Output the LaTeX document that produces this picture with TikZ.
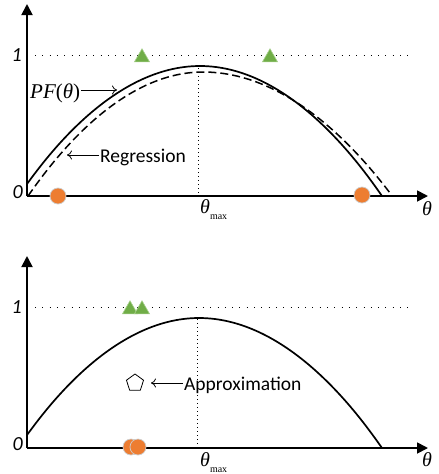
\documentclass[tikz,border=0pt]{standalone}
\usepackage{fontspec}
\setmainfont{Liberation Serif}
\newfontfamily\calfont{Carlito}
\usetikzlibrary{arrows.meta,shapes.geometric}
\definecolor{trigreen}{RGB}{112,173,71}
\definecolor{triedge}{RGB}{169,209,142}
\definecolor{dotorange}{RGB}{237,125,49}
\definecolor{dotedge}{RGB}{205,205,205}
\begin{document}
\begin{tikzpicture}[x=1pt,y=-1pt,
  axisline/.style={line width=1.8pt,-{Triangle[length=11pt,width=11pt]}},
  curve/.style={line width=1.7pt},
  dashcurve/.style={line width=1.5pt,dash pattern=on 8pt off 4pt},
  hdots/.style={line width=1pt,dash pattern=on 1pt off 6.3pt},
  vdots/.style={line width=1pt,dash pattern=on 1pt off 3pt},
  tri/.style={regular polygon,regular polygon sides=3,minimum size=17.5pt,inner sep=0pt,fill=trigreen,draw=triedge,line width=0.6pt},
  ball/.style={circle,minimum size=16pt,inner sep=0pt,fill=dotorange,draw=dotedge,line width=0.7pt},
  pent/.style={regular polygon,regular polygon sides=5,minimum size=18pt,inner sep=0pt,draw=black,fill=white,line width=0.8pt},
  lblarrow/.style={line width=0.8pt,-{To[length=5pt,width=9pt]}},
  ylab/.style={font=\calfont\itshape\fontsize{20}{20}\selectfont,anchor=base east,inner sep=0pt},
  txt/.style={font=\calfont\fontsize{19.5}{19.5}\selectfont,anchor=base west,inner sep=0pt},
  thlab/.style={font=\fontsize{20}{20}\selectfont\itshape,anchor=base,inner sep=0pt},
  thmax/.style={anchor=base west,inner sep=0pt}
]
\useasboundingbox (0,0) rectangle (439,474);
\fill[white] (0,0) rectangle (439,474);

% ---------- top plot ----------
\coordinate (o1) at (27,196);
\coordinate (ytop1) at (27,4);
\coordinate (xend1) at (428,196);
\draw[hdots] (35,55) -- (410,55);
\draw[vdots] (198,68) -- (198,196);
\draw[dashcurve] (28,196) parabola bend (203,72) (390,193);
\draw[curve] (27,184) parabola bend (200,66) (382,196);
\draw[axisline] (o1) -- (ytop1);
\draw[axisline] (o1) -- (xend1);

\node[ylab] (one1) at (22,61) {1};
\node[ylab] (zero1) at (23,198) {0};
\node[thlab] (th1) at (427,215) {θ};
\node[thmax] (thm1) at (200,213) {{\fontsize{20}{20}\selectfont\itshape θ}\raisebox{-6pt}{\fontsize{10}{10}\selectfont max}};

\node[tri] (t1) at (142,57.5) {};
\node[tri] (t2) at (270,57.5) {};
\node[ball] (b1) at (58,196) {};
\node[ball] (b2) at (362,195) {};

\node[anchor=base west,inner sep=0pt,font=\fontsize{21}{21}\selectfont] (pf) at (30,98) {{\itshape PF}(\textit{θ})};
\coordinate (pfa) at (117,90);
\draw[lblarrow] ([xshift=1pt]pf.east |- pfa) -- (pfa);

\node[txt] (reg) at (100,162) {Regression};
\coordinate (rega) at (67,155);
\draw[lblarrow] ([xshift=-1pt]reg.west |- rega) -- (rega);

% ---------- bottom plot ----------
\coordinate (o2) at (27,448);
\coordinate (ytop2) at (27,256);
\coordinate (xend2) at (428,448);
\draw[hdots] (35,307) -- (410,307);
\draw[vdots] (197,319) -- (197,448);
\draw[curve] (27,435) parabola bend (199,318) (382,448);
\draw[axisline] (o2) -- (ytop2);
\draw[axisline] (o2) -- (xend2);

\node[ylab] (one2) at (22,313) {1};
\node[ylab] (zero2) at (23,450) {0};
\node[thlab] (th2) at (427,466) {θ};
\node[thmax] (thm2) at (200,466) {{\fontsize{20}{20}\selectfont\itshape θ}\raisebox{-6pt}{\fontsize{10}{10}\selectfont max}};

\node[tri] (t3) at (130,309.5) {};
\node[tri] (t4) at (142,309.5) {};
\node[ball] (b3) at (131,447) {};
\node[ball] (b4) at (138,447) {};

\node[pent] (pe) at (135,383) {};
\node[txt] (app) at (184,390) {Approximation};
\coordinate (appa) at (151,383);
\draw[lblarrow] ([xshift=-1pt]app.west |- appa) -- (appa);
\end{tikzpicture}
\end{document}
